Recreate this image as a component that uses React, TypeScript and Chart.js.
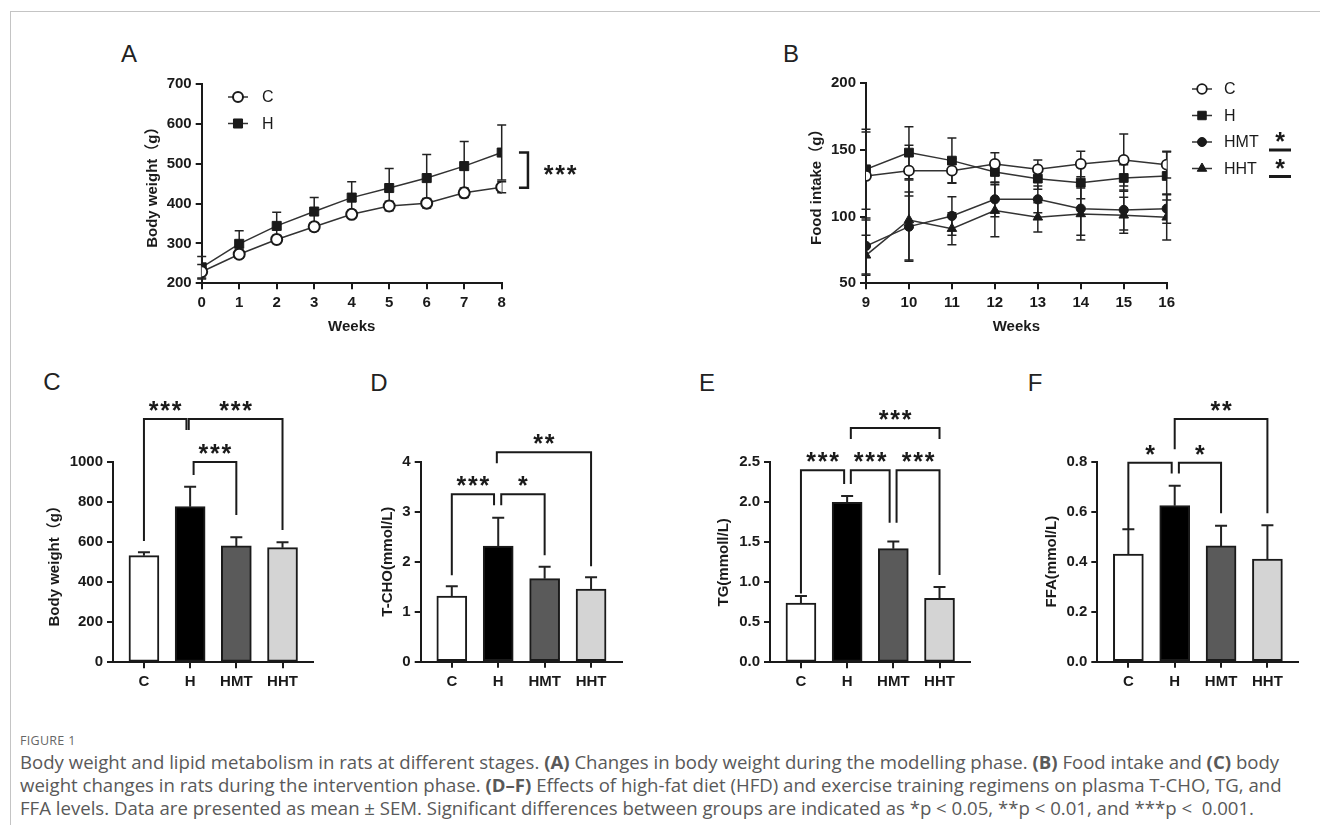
import React, { useEffect, useRef } from 'react';
import { Chart, registerables } from 'chart.js';
Chart.register(...registerables);

const FONT = '"Liberation Sans", Arial, "Noto Sans CJK SC", sans-serif';
const INK = '#1a1a1a';
const LINE = '#333333';

// ---------- Panel A: body weight, modelling phase ----------
const weeksA = [0, 1, 2, 3, 4, 5, 6, 7, 8];
const bodyWeightC = [229, 273, 310, 342, 373, 394, 401, 427, 441];
const bodyWeightCErr = [18, 10, 10, 10, 10, 12, 12, 12, 14];
const bodyWeightH = [240, 299, 344, 380, 415, 439, 464, 494, 528];
const bodyWeightHErr = [27, 33, 34, 35, 40, 49, 59, 62, 69];
const yTicksA = [200, 300, 400, 500, 600, 700];

// ---------- Panel B: food intake, intervention phase ----------
const weeksB = [9, 10, 11, 12, 13, 14, 15, 16];
const foodC = [130.5, 134.5, 134.5, 139.5, 135.5, 139.5, 142.5, 139];
const foodCErr = [33, 19, 9, 8.5, 7, 9.5, 19.5, 10];
const foodH = [135.5, 148, 142, 133.5, 128.5, 125.5, 129, 130.5];
const foodHErr = [30, 19.5, 17, 8, 8, 12, 10, 18];
const foodHMT = [78, 92.5, 100.5, 113, 113, 106, 105, 106];
const foodHMTErr = [21, 26, 14.5, 13, 10, 20, 15, 11];
const foodHHT = [71, 97.5, 91, 104.5, 99.5, 102, 101, 99.5];
const foodHHTErr = [15, 30, 12, 19.5, 11, 19.5, 13.5, 17];
const yTicksB = [50, 100, 150, 200];

// ---------- Panels C-F: group bars ----------
const groups = ['C', 'H', 'HMT', 'HHT'];
const groupColors = ['#ffffff', '#000000', '#5a5a5a', '#d4d4d4'];
const finalWeight = [533, 778, 582, 573];
const finalWeightErr = [17, 100, 43, 27];
const tcho = [1.31, 2.31, 1.66, 1.45];
const tchoErr = [0.2, 0.57, 0.24, 0.24];
const tg = [0.74, 2.0, 1.42, 0.8];
const tgErr = [0.09, 0.08, 0.09, 0.14];
const ffa = [0.43, 0.624, 0.463, 0.41];
const ffaErr = [0.1, 0.08, 0.081, 0.136];
const yTicksC = [0, 200, 400, 600, 800, 1000];
const yTicksD = [0, 1, 2, 3, 4];
const yTicksE = [0, 0.5, 1, 1.5, 2, 2.5];
const yTicksF = [0, 0.2, 0.4, 0.6, 0.8];

// significance brackets (x in group index units, y in data units)
const sigA = { x1: 8.46, x2: 8.7, yTop: 528, yBottom: 440, label: '***', labelX: 9.56 };
const sigC = [
  { x1: 0, x2: 0.92, top: 1216, y1: 606, y2: 1161, label: '***' },
  { x1: 0.97, x2: 3, top: 1216, y1: 1161, y2: 661, label: '***' },
  { x1: 1.075, x2: 2, top: 1001, y1: 936, y2: 736, label: '***' },
];
const sigD = [
  { x1: 0, x2: 0.91, top: 3.35, y1: 1.73, y2: 3.13, label: '***' },
  { x1: 1.065, x2: 2, top: 3.35, y1: 3.13, y2: 2.13, label: '*' },
  { x1: 0.97, x2: 3, top: 4.19, y1: 3.97, y2: 1.91, label: '**' },
];
const sigE = [
  { x1: 0, x2: 0.935, top: 2.4, y1: 0.86, y2: 2.23, label: '***' },
  { x1: 1.08, x2: 1.92, top: 2.4, y1: 2.23, y2: 1.745, label: '***' },
  { x1: 2.07, x2: 3, top: 2.4, y1: 1.745, y2: 1.09, label: '***' },
  { x1: 1.08, x2: 3, top: 2.93, y1: 2.79, y2: 2.79, label: '***' },
];
const sigF = [
  { x1: 0, x2: 0.935, top: 0.796, y1: 0.53, y2: 0.753, label: '*' },
  { x1: 1.09, x2: 2, top: 0.796, y1: 0.753, y2: 0.594, label: '*' },
  { x1: 1.0, x2: 3, top: 0.971, y1: 0.85, y2: 0.594, label: '**' },
];

// ---------- layout ----------
type Box = { left: number; top: number; width: number; height: number };
type Area = { l: number; t: number; r: number; b: number };

const boxA: Box = { left: 100, top: 60, width: 500, height: 290 };
const areaA: Area = { l: 201.7, t: 84, r: 501.7, b: 283.3 };
const boxB: Box = { left: 730, top: 60, width: 580, height: 290 };
const areaB: Area = { l: 866, t: 83.3, r: 1166.7, b: 283.3 };
const boxC: Box = { left: 15, top: 340, width: 315, height: 360 };
const areaC: Area = { l: 113, t: 462.3, r: 313, b: 662.3 };
const boxD: Box = { left: 335, top: 340, width: 310, height: 360 };
const areaD: Area = { l: 420.7, t: 461.7, r: 621.7, b: 661.7 };
const boxE: Box = { left: 650, top: 340, width: 340, height: 360 };
const areaE: Area = { l: 770, t: 462.3, r: 970, b: 662.3 };
const boxF: Box = { left: 990, top: 340, width: 330, height: 360 };
const areaF: Area = { l: 1097.3, t: 461.7, r: 1298, b: 661.7 };

const tickFont = { family: FONT, size: 15, weight: 'bold' as const };

function layoutOpts(box: Box, area: Area) {
  return {
    padding: { left: 0, top: area.t - box.top, right: box.left + box.width - area.r, bottom: 0 },
  };
}

function yAxis(box: Box, area: Area, ticks: number[], fmt: (v: number) => string, title: string, titleX: number) {
  return {
    type: 'linear',
    offset: false,
    min: ticks[0],
    max: ticks[ticks.length - 1],
    afterBuildTicks: (s: any) => {
      s.ticks = ticks.map((v) => ({ value: v }));
    },
    afterFit: (s: any) => {
      s.width = area.l - box.left;
    },
    ticks: { color: INK, font: tickFont, padding: 4, callback: (v: any) => fmt(Number(v)) },
    grid: { offset: false, drawOnChartArea: false, drawTicks: true, tickLength: 6, color: INK, lineWidth: 2 },
    border: { display: true, color: INK, width: 2 },
    title: {
      display: true,
      text: title,
      color: INK,
      font: tickFont,
      padding: { top: titleX - box.left - 9, bottom: 0 },
    },
  };
}

function xAxis(
  box: Box,
  area: Area,
  ticks: number[],
  min: number,
  max: number,
  fmt: (v: number) => string,
  title?: string,
  titleY?: number
) {
  return {
    type: 'linear',
    offset: false,
    min,
    max,
    afterBuildTicks: (s: any) => {
      s.ticks = ticks.map((v) => ({ value: v }));
    },
    afterFit: (s: any) => {
      s.height = box.top + box.height - area.b;
    },
    ticks: { color: INK, font: tickFont, padding: 5, maxRotation: 0, callback: (v: any) => fmt(Number(v)) },
    grid: { offset: false, drawOnChartArea: false, drawTicks: true, tickLength: 6, color: INK, lineWidth: 2 },
    border: { display: true, color: INK, width: 2 },
    title: title
      ? {
          display: true,
          text: title,
          color: INK,
          font: tickFont,
          padding: { top: 0, bottom: box.top + box.height - (titleY as number) - 9 },
        }
      : { display: false },
  };
}

// ---------- drawing helpers ----------
function drawStars(ctx: CanvasRenderingContext2D, cx: number, cy: number, label: string) {
  ctx.save();
  ctx.fillStyle = INK;
  ctx.font = `bold 25px ${FONT}`;
  ctx.textAlign = 'center';
  ctx.textBaseline = 'alphabetic';
  const m = ctx.measureText('*');
  const baseline = cy + (m.actualBoundingBoxAscent - m.actualBoundingBoxDescent) / 2;
  const n = label.length;
  const gap = 11.5;
  for (let i = 0; i < n; i++) {
    const x = cx + (i - (n - 1) / 2) * gap;
    ctx.fillText('*', x, baseline);
  }
  ctx.restore();
}

function drawMarker(
  ctx: CanvasRenderingContext2D,
  style: string,
  x: number,
  y: number,
  r: number,
  fill: string,
  bw: number
) {
  ctx.save();
  ctx.beginPath();
  if (style === 'circle') {
    ctx.arc(x, y, r, 0, Math.PI * 2);
  } else if (style === 'rect') {
    const s = r * Math.SQRT1_2;
    ctx.rect(x - s, y - s, 2 * s, 2 * s);
  } else {
    let rad = 0;
    ctx.moveTo(x + Math.sin(rad) * r, y - Math.cos(rad) * r);
    rad += (2 * Math.PI) / 3;
    ctx.lineTo(x + Math.sin(rad) * r, y - Math.cos(rad) * r);
    rad += (2 * Math.PI) / 3;
    ctx.lineTo(x + Math.sin(rad) * r, y - Math.cos(rad) * r);
    ctx.closePath();
  }
  ctx.fillStyle = fill;
  ctx.fill();
  ctx.lineWidth = bw;
  ctx.strokeStyle = INK;
  ctx.stroke();
  ctx.restore();
}

function errorBarsPlugin(errs: number[][], upOnly: boolean, cap: number, width: number) {
  const draw = (chart: any) => {
    const ctx = chart.ctx as CanvasRenderingContext2D;
    const ys = chart.scales.y;
    chart.data.datasets.forEach((ds: any, di: number) => {
      const e = errs[di];
      if (!e) return;
      const meta = chart.getDatasetMeta(di);
      meta.data.forEach((el: any, i: number) => {
        const v = ds.data[i].y;
        const x = el.x;
        const yT = ys.getPixelForValue(v + e[i]);
        const yB = upOnly ? el.y : ys.getPixelForValue(v - e[i]);
        ctx.save();
        ctx.strokeStyle = '#222';
        ctx.lineWidth = width;
        ctx.beginPath();
        ctx.moveTo(x, yB);
        ctx.lineTo(x, yT);
        ctx.moveTo(x - cap / 2, yT);
        ctx.lineTo(x + cap / 2, yT);
        if (!upOnly) {
          ctx.moveTo(x - cap / 2, yB);
          ctx.lineTo(x + cap / 2, yB);
        }
        ctx.stroke();
        ctx.restore();
      });
    });
  };
  return upOnly
    ? { id: 'errorBars', afterDatasetsDraw: draw }
    : { id: 'errorBars', beforeDatasetsDraw: draw };
}

function bracketsPlugin(list: { x1: number; x2: number; top: number; y1: number; y2: number; label: string }[]) {
  return {
    id: 'brackets',
    afterDraw(chart: any) {
      const ctx = chart.ctx as CanvasRenderingContext2D;
      const xs = chart.scales.x;
      const ys = chart.scales.y;
      list.forEach((b) => {
        const x1 = xs.getPixelForValue(b.x1);
        const x2 = xs.getPixelForValue(b.x2);
        const t = ys.getPixelForValue(b.top);
        ctx.save();
        ctx.strokeStyle = INK;
        ctx.lineWidth = 2;
        ctx.lineJoin = 'miter';
        ctx.beginPath();
        ctx.moveTo(x1, ys.getPixelForValue(b.y1));
        ctx.lineTo(x1, t);
        ctx.lineTo(x2, t);
        ctx.lineTo(x2, ys.getPixelForValue(b.y2));
        ctx.stroke();
        ctx.restore();
        drawStars(ctx, (x1 + x2) / 2, t - 13, b.label);
      });
    },
  };
}

type LegendEntry = { label: string; style: string; fill: string; r: number; bw: number; sig?: string };

function legendPlugin(box: Box, x: number, y: number, dy: number, textX: number, items: LegendEntry[], sigX?: number) {
  return {
    id: 'customLegend',
    afterDraw(chart: any) {
      const ctx = chart.ctx as CanvasRenderingContext2D;
      items.forEach((it, i) => {
        const cy = y + i * dy - box.top;
        const cx = x - box.left;
        ctx.save();
        ctx.strokeStyle = LINE;
        ctx.lineWidth = 1.5;
        ctx.beginPath();
        ctx.moveTo(cx - 10, cy);
        ctx.lineTo(cx + 10, cy);
        ctx.stroke();
        ctx.restore();
        drawMarker(ctx, it.style, cx, cy, it.r, it.fill, it.bw);
        ctx.save();
        ctx.fillStyle = INK;
        ctx.font = `16px ${FONT}`;
        ctx.textAlign = 'left';
        ctx.textBaseline = 'middle';
        ctx.fillText(it.label, textX - box.left, cy + 1);
        ctx.restore();
        if (it.sig && sigX !== undefined) {
          const sx = sigX - box.left;
          drawStars(ctx, sx, cy - 5, it.sig);
          ctx.save();
          ctx.strokeStyle = INK;
          ctx.lineWidth = 3;
          ctx.beginPath();
          ctx.moveTo(sx - 11, cy + 8);
          ctx.lineTo(sx + 11, cy + 8);
          ctx.stroke();
          ctx.restore();
        }
      });
    },
  };
}

const vBracketPlugin = {
  id: 'vBracket',
  afterDraw(chart: any) {
    const ctx = chart.ctx as CanvasRenderingContext2D;
    const xs = chart.scales.x;
    const ys = chart.scales.y;
    const x1 = xs.getPixelForValue(sigA.x1);
    const x2 = xs.getPixelForValue(sigA.x2);
    const t = ys.getPixelForValue(sigA.yTop);
    const b = ys.getPixelForValue(sigA.yBottom);
    ctx.save();
    ctx.strokeStyle = INK;
    ctx.lineWidth = 2.5;
    ctx.beginPath();
    ctx.moveTo(x1, t);
    ctx.lineTo(x2, t);
    ctx.lineTo(x2, b);
    ctx.lineTo(x1, b);
    ctx.stroke();
    ctx.restore();
    drawStars(ctx, xs.getPixelForValue(sigA.labelX), (t + b) / 2, sigA.label);
  },
};

function pts(xs: number[], ys: number[]) {
  return ys.map((y, i) => ({ x: xs[i], y }));
}

function lineDs(xs: number[], ys: number[], style: string, fill: string, r: number, bw: number) {
  return {
    data: pts(xs, ys),
    borderColor: LINE,
    borderWidth: 1.5,
    tension: 0,
    pointStyle: style,
    pointRadius: r,
    pointBorderWidth: bw,
    pointBackgroundColor: fill,
    pointBorderColor: INK,
    fill: false,
  };
}

const int = (v: number) => String(Math.round(v));
const one = (v: number) => v.toFixed(1);

function makeA() {
  return {
    type: 'line',
    data: {
      datasets: [
        lineDs(weeksA, bodyWeightC, 'circle', '#ffffff', 5.5, 2),
        lineDs(weeksA, bodyWeightH, 'rect', INK, 6.4, 1),
      ],
    },
    options: {
      animation: false,
      responsive: false,
      devicePixelRatio: 1,
      layout: layoutOpts(boxA, areaA),
      plugins: { legend: { display: false }, tooltip: { enabled: false } },
      scales: {
        x: xAxis(boxA, areaA, weeksA, weeksA[0], weeksA[weeksA.length - 1], int, 'Weeks', 327),
        y: yAxis(boxA, areaA, yTicksA, int, 'Body weight（g）', 153),
      },
    },
    plugins: [
      errorBarsPlugin([bodyWeightCErr, bodyWeightHErr], false, 9, 1.5),
      vBracketPlugin,
      legendPlugin(boxA, 238, 97, 26.5, 262, [
        { label: 'C', style: 'circle', fill: '#ffffff', r: 5, bw: 2 },
        { label: 'H', style: 'rect', fill: INK, r: 6.4, bw: 1 },
      ]),
    ],
  };
}

function makeB() {
  return {
    type: 'line',
    data: {
      datasets: [
        lineDs(weeksB, foodC, 'circle', '#ffffff', 5, 1.8),
        lineDs(weeksB, foodH, 'rect', INK, 6.2, 1),
        lineDs(weeksB, foodHMT, 'circle', INK, 4.6, 1),
        lineDs(weeksB, foodHHT, 'triangle', INK, 5.5, 1),
      ],
    },
    options: {
      animation: false,
      responsive: false,
      devicePixelRatio: 1,
      layout: layoutOpts(boxB, areaB),
      plugins: { legend: { display: false }, tooltip: { enabled: false } },
      scales: {
        x: xAxis(boxB, areaB, weeksB, weeksB[0], weeksB[weeksB.length - 1], int, 'Weeks', 327),
        y: yAxis(boxB, areaB, yTicksB, int, 'Food intake（g）', 817),
      },
    },
    plugins: [
      errorBarsPlugin([foodCErr, foodHErr, foodHMTErr, foodHHTErr], false, 9, 1.5),
      legendPlugin(
        boxB,
        1202,
        89,
        26.5,
        1224,
        [
          { label: 'C', style: 'circle', fill: '#ffffff', r: 4.8, bw: 1.8 },
          { label: 'H', style: 'rect', fill: INK, r: 6, bw: 1 },
          { label: 'HMT', style: 'circle', fill: INK, r: 4.5, bw: 1, sig: '*' },
          { label: 'HHT', style: 'triangle', fill: INK, r: 5.5, bw: 1, sig: '*' },
        ],
        1280
      ),
    ],
  };
}

function makeBar(
  box: Box,
  area: Area,
  values: number[],
  errs: number[],
  ticks: number[],
  fmt: (v: number) => string,
  title: string,
  titleX: number,
  sig: any[]
) {
  const idx = groups.map((_, i) => i);
  return {
    type: 'bar',
    data: {
      datasets: [
        {
          data: pts(idx, values),
          backgroundColor: groupColors,
          borderColor: INK,
          borderWidth: 2,
          borderSkipped: false,
          barThickness: 30,
        },
      ],
    },
    options: {
      animation: false,
      responsive: false,
      devicePixelRatio: 1,
      layout: layoutOpts(box, area),
      plugins: { legend: { display: false }, tooltip: { enabled: false } },
      scales: {
        x: xAxis(box, area, idx, -0.67, 3.66, (v) => groups[Math.round(v)] ?? ''),
        y: yAxis(box, area, ticks, fmt, title, titleX),
      },
    },
    plugins: [errorBarsPlugin([errs], true, 12, 2), bracketsPlugin(sig)],
  };
}

function ChartBox({ box, make }: { box: Box; make: () => any }) {
  const ref = useRef<HTMLCanvasElement>(null);
  useEffect(() => {
    const chart = new Chart(ref.current as HTMLCanvasElement, make());
    return () => chart.destroy();
  }, []);
  return (
    <canvas
      ref={ref}
      width={box.width}
      height={box.height}
      style={{ position: 'absolute', left: box.left, top: box.top, width: box.width, height: box.height }}
    />
  );
}

function PanelLetter({ text, x, y }: { text: string; x: number; y: number }) {
  return (
    <div
      style={{
        position: 'absolute',
        left: x,
        top: y,
        transform: 'translate(-50%, -50%)',
        font: `24px ${FONT}`,
        lineHeight: 1,
        color: '#222',
      }}
    >
      {text}
    </div>
  );
}

export default function App() {
  const capStyle: React.CSSProperties = { whiteSpace: 'pre' };
  return (
    <div
      style={{
        position: 'fixed',
        left: 0,
        top: 0,
        width: 1320,
        height: 825,
        background: '#ffffff',
        overflow: 'hidden',
      }}
    >
      <div
        style={{
          position: 'absolute',
          left: 10,
          top: 11,
          width: 1400,
          height: 900,
          borderTop: '1px solid #c4c4c4',
          borderLeft: '1px solid #c4c4c4',
        }}
      />
      <PanelLetter text="A" x={129} y={54} />
      <PanelLetter text="B" x={791} y={54} />
      <PanelLetter text="C" x={52} y={382} />
      <PanelLetter text="D" x={379} y={383} />
      <PanelLetter text="E" x={707} y={383} />
      <PanelLetter text="F" x={1035} y={383} />
      <ChartBox box={boxA} make={makeA} />
      <ChartBox box={boxB} make={makeB} />
      <ChartBox
        box={boxC}
        make={() => makeBar(boxC, areaC, finalWeight, finalWeightErr, yTicksC, int, 'Body weight（g）', 55, sigC)}
      />
      <ChartBox box={boxD} make={() => makeBar(boxD, areaD, tcho, tchoErr, yTicksD, int, 'T-CHO(mmol/L)', 388, sigD)} />
      <ChartBox box={boxE} make={() => makeBar(boxE, areaE, tg, tgErr, yTicksE, one, 'TG(mmoll/L)', 724, sigE)} />
      <ChartBox box={boxF} make={() => makeBar(boxF, areaF, ffa, ffaErr, yTicksF, one, 'FFA(mmol/L)', 1051.7, sigF)} />
      <div
        style={{
          position: 'absolute',
          left: 20,
          top: 733,
          font: '12.5px "Open Sans", sans-serif',
          lineHeight: '16px',
          color: '#666',
          letterSpacing: 0.3,
        }}
      >
        FIGURE 1
      </div>
      <div
        style={{
          position: 'absolute',
          left: 20,
          top: 750,
          font: '18.6px "Open Sans", sans-serif',
          lineHeight: '23px',
          color: '#595959',
        }}
      >
        <div style={capStyle}>
          {'Body weight and lipid metabolism in rats at different stages. '}
          <b>(A)</b>
          {' Changes in body weight during the modelling phase. '}
          <b>(B)</b>
          {' Food intake and '}
          <b>(C)</b>
          {' body'}
        </div>
        <div style={capStyle}>
          {'weight changes in rats during the intervention phase. '}
          <b>(D–F)</b>
          {' Effects of high-fat diet (HFD) and exercise training regimens on plasma T-CHO, TG, and'}
        </div>
        <div style={capStyle}>
          {
            'FFA levels. Data are presented as mean ± SEM. Significant differences between groups are indicated as *p < 0.05, **p < 0.01, and ***p <  0.001.'
          }
        </div>
      </div>
    </div>
  );
}
